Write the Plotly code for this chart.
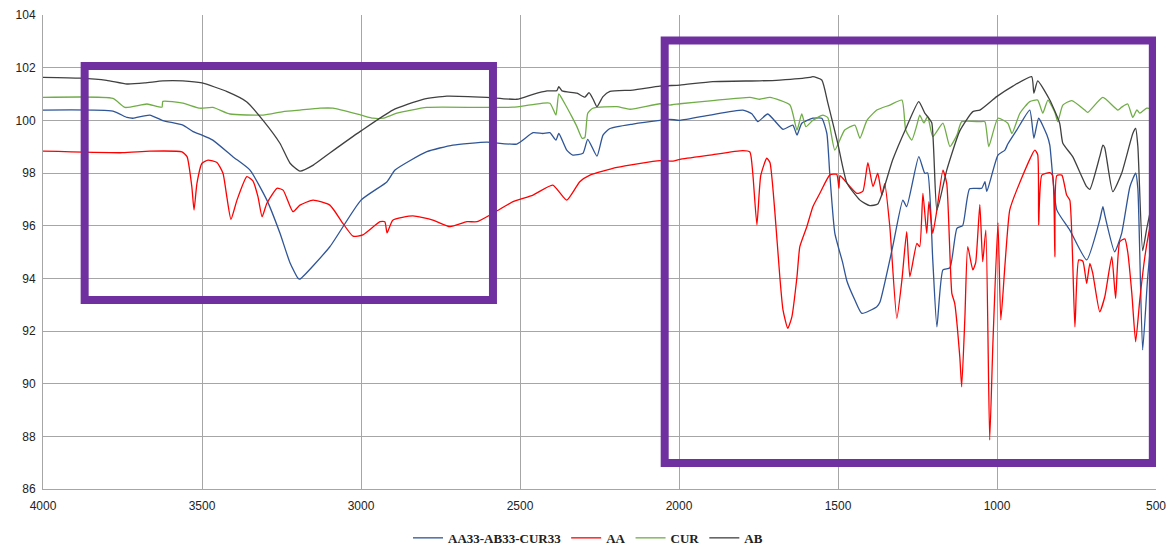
import plotly.graph_objects as go

# FTIR transmittance spectra (%T vs wavenumber, cm-1)
ab_wn = [4000, 3884, 3800, 3736, 3680, 3623, 3560, 3500, 3421, 3359, 3308, 3255, 3223, 3192, 3150,
         3098, 3000, 2900, 2805, 2730, 2604, 2510, 2459, 2415, 2384, 2378, 2368, 2321, 2296, 2283,
         2270, 2258, 2239, 2217, 2145, 2060, 1997, 1894, 1746, 1683, 1589, 1579, 1551, 1532, 1501,
         1472, 1431, 1400, 1375, 1359, 1328, 1284, 1246, 1227, 1218, 1205, 1189, 1158, 1117, 1076,
         1054, 1001, 950, 891, 884, 872, 834, 803, 793, 762, 718, 708, 677, 667, 661, 636, 608,
         573, 564, 557, 542, 529, 500]
ab_t = [101.63, 101.6, 101.52, 101.38, 101.42, 101.5, 101.5, 101.42, 101.09, 100.7, 100.0, 99.13,
        98.37, 98.07, 98.3, 98.76, 99.6, 100.39, 100.8, 100.92, 100.87, 100.8, 100.99, 101.12,
        101.13, 101.28, 101.12, 101.03, 100.88, 101.05, 100.8, 100.52, 100.9, 101.1, 101.15,
        101.3, 101.34, 101.47, 101.5, 101.53, 101.63, 101.66, 101.53, 100.66, 99.14, 97.62,
        96.97, 96.76, 96.82, 97.29, 98.5, 99.76, 100.71, 100.27, 100.14, 99.9, 96.59, 98.11,
        99.6, 100.33, 100.39, 100.9, 101.3, 101.66, 101.03, 101.5, 100.77, 99.89, 99.13, 98.62,
        97.48, 97.38, 98.62, 99.06, 98.95, 97.29, 97.99, 99.5, 99.69, 99.0, 95.05, 95.9, 97.6]

mix_wn = [4000, 3780, 3736, 3717, 3664, 3623, 3560, 3528, 3500, 3466, 3403, 3349, 3296, 3255, 3223,
          3198, 3192, 3098, 3000, 2918, 2893, 2793, 2711, 2604, 2510, 2459, 2428, 2406, 2387, 2378,
          2353, 2334, 2302, 2287, 2258, 2239, 2217, 2145, 2060, 2029, 1997, 1903, 1799, 1771, 1752,
          1721, 1673, 1642, 1629, 1614, 1579, 1551, 1535, 1526, 1510, 1485, 1472, 1447, 1425, 1378,
          1368, 1328, 1296, 1284, 1246, 1227, 1218, 1202, 1189, 1170, 1148, 1126, 1108, 1086, 1048,
          1038, 1032, 997, 975, 966, 938, 897, 884, 869, 843, 834, 812, 771, 718, 677, 667, 661,
          630, 608, 582, 564, 557, 542, 526, 500]
mix_t = [100.39, 100.35, 100.11, 100.08, 100.2, 99.99, 99.82, 99.57, 99.44, 99.25, 98.62, 98.11,
         96.97, 95.72, 94.58, 94.0, 93.97, 95.2, 96.97, 97.67, 98.11, 98.81, 99.06, 99.17, 99.1,
         99.53, 99.5, 99.53, 99.25, 99.5, 98.87, 98.68, 98.75, 99.28, 98.64, 99.44, 99.69, 99.86,
         100.0, 100.04, 100.0, 100.2, 100.39, 100.25, 99.95, 100.24, 99.66, 99.82, 99.44, 99.89,
         100.08, 100.08, 99.5, 97.99, 95.72, 94.58, 93.9, 93.18, 92.67, 92.92, 93.1, 95.2, 96.97,
         96.72, 98.62, 97.99, 98.0, 94.7, 92.16, 94.32, 94.4, 95.9, 96.0, 97.4, 97.42, 97.67,
         97.3, 98.68, 98.87, 99.1, 99.63, 100.39, 99.32, 100.08, 99.44, 99.06, 96.6, 95.83, 94.7,
         96.21, 96.72, 96.4, 95.01, 95.71, 97.48, 97.99, 97.4, 91.28, 94.06, 97.5]

cur_wn = [4000, 3780, 3742, 3673, 3626, 3623, 3560, 3506, 3466, 3412, 3308, 3245, 3192, 3129, 3088,
          3000, 2962, 2931, 2887, 2793, 2626, 2522, 2459, 2406, 2387, 2378, 2359, 2337, 2321, 2305,
          2296, 2287, 2271, 2195, 2154, 2060, 2029, 1997, 1894, 1777, 1746, 1714, 1651, 1629, 1614,
          1601, 1579, 1548, 1532, 1510, 1479, 1447, 1431, 1409, 1378, 1337, 1299, 1287, 1268, 1252,
          1243, 1230, 1218, 1202, 1170, 1148, 1126, 1111, 1054, 1038, 1026, 997, 966, 953, 928,
          897, 872, 856, 840, 818, 809, 793, 765, 724, 715, 667, 620, 608, 589, 573, 560, 551,
          529, 500]
cur_t = [100.87, 100.83, 100.49, 100.62, 100.5, 100.72, 100.65, 100.46, 100.49, 100.24, 100.2,
         100.33, 100.39, 100.46, 100.46, 100.2, 100.08, 100.08, 100.27, 100.49, 100.49, 100.5,
         100.6, 100.65, 100.2, 101.0, 100.63, 100.14, 99.76, 99.32, 99.35, 100.27, 100.46, 100.52,
         100.42, 100.63, 100.58, 100.63, 100.75, 100.87, 100.8, 100.87, 100.58, 99.63, 100.24,
         99.76, 100.0, 100.2, 100.1, 98.87, 99.63, 99.82, 99.32, 100.0, 100.39, 100.58, 100.77,
         99.63, 99.25, 99.82, 100.2, 99.9, 100.15, 99.38, 99.89, 99.0, 99.44, 99.95, 99.95, 99.95,
         99.0, 100.08, 99.89, 99.5, 100.27, 100.71, 100.77, 100.27, 100.77, 100.3, 99.95, 100.58,
         100.75, 100.39, 100.3, 100.87, 100.39, 100.5, 100.62, 100.11, 100.4, 100.27, 100.46, 100.4]

aa_wn = [4000, 3750, 3664, 3563, 3547, 3532, 3525, 3516, 3500, 3481, 3453, 3434, 3422, 3409, 3390,
         3359, 3340, 3324, 3311, 3296, 3264, 3245, 3214, 3192, 3151, 3098, 3057, 3025, 2994, 2940,
         2925, 2918, 2900, 2837, 2774, 2720, 2667, 2635, 2585, 2522, 2459, 2397, 2353, 2312, 2280,
         2195, 2060, 2019, 1997, 1903, 1799, 1777, 1768, 1755, 1743, 1724, 1714, 1699, 1683, 1673,
         1658, 1645, 1629, 1620, 1598, 1579, 1557, 1526, 1504, 1497, 1494, 1485, 1441, 1422, 1406,
         1390, 1375, 1362, 1353, 1337, 1315, 1299, 1284, 1274, 1252, 1243, 1233, 1221, 1214, 1202,
         1189, 1170, 1158, 1142, 1133, 1117, 1111, 1101, 1092, 1076, 1067, 1054, 1045, 1035, 1023,
         1013, 997, 988, 975, 960, 938, 881, 872, 869, 859, 834, 825, 818, 812, 796, 781, 771,
         755, 743, 730, 718, 708, 699, 677, 661, 639, 627, 614, 598, 589, 576, 564, 551, 535, 523,
         500]
aa_t = [98.83, 98.77, 98.83, 98.8, 98.62, 97.48, 96.59, 97.6, 98.37, 98.49, 98.4, 97.99, 97.1,
        96.24, 96.97, 97.86, 97.7, 97.1, 96.34, 96.85, 97.42, 97.35, 96.53, 96.78, 96.97, 96.78,
        96.09, 95.6, 95.65, 96.15, 96.15, 95.73, 96.21, 96.37, 96.21, 95.96, 96.15, 96.15, 96.47,
        96.91, 97.16, 97.54, 96.97, 97.67, 97.92, 98.21, 98.47, 98.45, 98.52, 98.68, 98.85, 98.8,
        97.99, 96.03, 97.9, 98.56, 98.4, 96.59, 94.06, 92.8, 92.1, 92.54, 94.06, 95.2, 95.96,
        96.72, 97.23, 97.92, 97.95, 97.42, 97.9, 97.8, 97.23, 97.3, 98.39, 97.48, 97.99, 97.16,
        97.6, 95.96, 92.48, 93.94, 95.77, 94.06, 95.33, 95.2, 97.23, 95.71, 96.91, 95.71, 96.6,
        98.11, 97.6, 93.43, 93.05, 91.02, 89.88, 92.5, 95.2, 94.32, 94.6, 96.8, 94.63, 95.83,
        87.86, 91.5, 96.11, 92.42, 94.5, 96.59, 97.35, 98.87, 98.7, 96.03, 97.92, 98.01, 97.9,
        94.82, 97.9, 97.92, 97.16, 96.97, 92.16, 94.7, 94.65, 93.81, 94.57, 94.2, 92.73, 93.3,
        94.82, 93.24, 95.39, 95.5, 95.01, 93.43, 91.59, 93.18, 94.82, 95.71, 97.0]

# highlighted spectral regions: (wn_high, wn_low, t_low, t_high)
regions = [(3869, 2585, 93.18, 102.06), (2045, 510, 86.99, 103.03)]

series = [
    ("AA33-AB33-CUR33", mix_wn, mix_t, "#2f5597"),
    ("AA", aa_wn, aa_t, "#ff0000"),
    ("CUR", cur_wn, cur_t, "#70ad47"),
    ("AB", ab_wn, ab_t, "#404040"),
]

fig = go.Figure()
for name, wn, t, color in series:
    fig.add_trace(go.Scatter(x=wn, y=t, name=name, mode="lines",
                             line=dict(color=color, width=1.3, shape="spline", smoothing=0.5)))

for x0, x1, y0, y1 in regions:
    fig.add_shape(type="rect", xref="x", yref="y", x0=x0, x1=x1, y0=y0, y1=y1,
                  line=dict(color="#7030a0", width=8), fillcolor="rgba(0,0,0,0)",
                  layer="above")

grid = "#a6a6a6"
fig.update_layout(
    width=1176, height=550,
    margin=dict(l=43, r=20, t=15, b=61, autoexpand=False),
    paper_bgcolor="white", plot_bgcolor="white",
    font=dict(family="Liberation Sans", size=12, color="#222222"),
    showlegend=True,
    legend=dict(orientation="h", x=0.5, xanchor="center", xref="container",
                y=0.022, yanchor="middle", yref="container",
                font=dict(family="Liberation Serif", size=13, color="#222222", weight="bold"),
                itemwidth=30),
    xaxis=dict(range=[4000, 500], dtick=500, tick0=500, showgrid=True, gridcolor=grid,
               gridwidth=1, zeroline=False, showline=True, linecolor=grid, linewidth=1,
               ticks="", ticklabelstandoff=6, tickfont=dict(size=12)),
    yaxis=dict(range=[86, 104], dtick=2, showgrid=True, gridcolor=grid, gridwidth=1,
               zeroline=False, showline=True, linecolor=grid, linewidth=1, ticks="",
               ticklabelstandoff=4, tickfont=dict(size=12)),
)

fig.write_html("out.html")
